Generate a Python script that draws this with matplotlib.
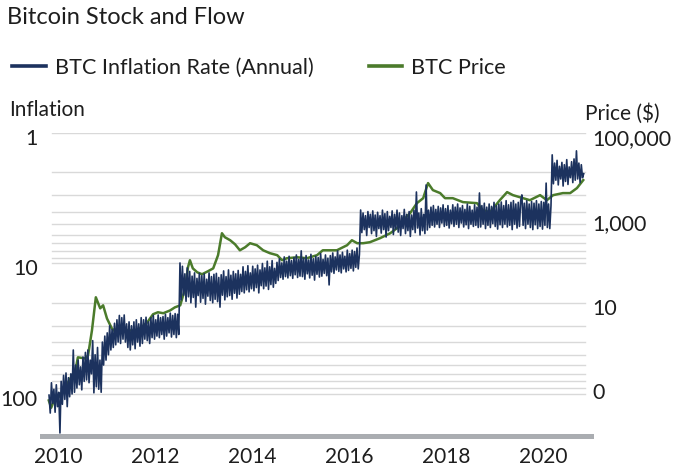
import numpy as np
import matplotlib.pyplot as plt
import matplotlib.transforms as mtransforms
from matplotlib.lines import Line2D
from matplotlib.ticker import NullLocator

# BTC annual inflation rate (%), one reading every 0.025 years
infl_start = 2009.815
infl_step = 0.025
infl_era1 = [102, 140, 82, 118, 92, 138, 85, 125, 97, 199,
             80, 120, 72, 110, 69, 125, 75, 105, 70, 100,
             46, 97, 60, 90, 55, 85, 62, 93, 52, 80,
             48, 78, 46, 82, 55, 70, 39, 98, 50, 88,
             44, 92, 55, 97, 40, 60, 36, 55, 34, 50,
             30, 46, 32, 44, 28.7, 42, 27, 40, 25, 41,
             26, 38, 24.8, 40, 29, 44, 28, 46, 30, 42,
             28, 45, 27, 40, 29, 43, 26, 41, 27, 38,
             25.8, 39, 28, 41, 26, 37, 25, 38, 27, 36,
             24.8, 37, 26, 35, 25.5, 38, 24.5, 36, 26, 34,
             24, 36.6, 25, 35, 24.2, 37, 24.5, 35]
infl_era2 = [9.9, 19.0, 10.5, 17.5, 12.0, 19.5, 10.8, 18.0, 11.5, 20.0,
             12.5, 18.2, 11.8, 21.6, 13.0, 17.6, 11.9, 19.8, 12.4, 18.5,
             12.0, 20.5, 13.2, 17.8, 11.8, 19.2, 12.6, 20.0, 12.1, 18.8,
             11.9, 19.6, 12.8, 21.6, 12.2, 17.5, 11.4, 19.0, 12.6, 18.0,
             11.2, 17.6, 12.3, 18.8, 11.5, 16.9, 12.0, 18.4, 11.3, 17.2,
             12.1, 16.4, 10.6, 16.8, 11.5, 15.9, 10.4, 16.5, 11.8, 15.6,
             10.5, 16.2, 11.0, 15.3, 10.3, 16.8, 11.2, 14.8, 10.0, 15.6,
             10.8, 14.9, 9.6, 15.8, 10.6, 14.5, 9.5, 15.2, 10.9, 14.2,
             9.8, 13.5, 9.2, 12.8, 9.9, 13.2, 8.9, 12.6, 9.6, 12.9,
             8.8, 12.4, 9.5, 13.0, 9.0, 12.2, 8.6, 12.8, 9.3, 12.5,
             8.0, 12.6, 9.1, 13.2, 8.7, 12.0, 9.4, 12.9, 8.5, 12.3,
             9.2, 13.4, 8.8, 12.1, 9.0, 12.7, 8.4, 12.5, 9.3, 11.9,
             8.6, 12.4, 9.1, 14.6, 8.7, 11.6, 8.3, 11.9, 8.9, 11.2,
             8.0, 11.5, 8.6, 11.8, 8.2, 11.0, 8.8, 11.6, 7.9, 11.3,
             8.4, 10.9, 7.9, 11.4, 8.1, 10.7, 7.6, 11.0, 8.5]
infl_era3 = [3.89, 5.8, 4.1, 5.5, 4.3, 6.1, 4.0, 5.3, 4.2, 5.9,
             3.95, 5.6, 4.25, 6.2, 4.05, 5.4, 4.3, 5.85, 3.9, 5.5,
             4.15, 6.27, 4.0, 5.6, 4.35, 5.3, 3.95, 6.0, 4.2, 5.45,
             3.9, 5.75, 4.1, 6.1, 4.3, 5.4, 3.85, 5.9, 4.2, 5.6,
             4.0, 6.2, 4.25, 5.5, 3.9, 5.8, 2.83, 5.35, 4.1, 6.05,
             3.8, 5.6, 4.2, 5.9, 2.5, 5.54, 3.9, 5.3, 3.7, 5.1,
             3.6, 5.25, 3.85, 5.0, 3.65, 5.3, 3.75, 4.9, 3.55, 5.2,
             3.8, 5.1, 3.6, 5.35, 3.9, 4.95, 3.55, 5.2, 3.7, 5.0,
             3.5, 5.3, 3.75, 4.9, 3.6, 5.25, 3.85, 5.05, 3.5, 5.4,
             3.65, 5.0, 3.9, 5.2, 3.55, 5.1, 3.7, 5.3, 2.88, 5.25,
             3.6, 5.0, 3.45, 5.4, 3.7, 5.1, 3.5, 5.3, 3.65, 4.95,
             3.4, 5.2, 3.6, 5.45, 3.5, 5.05, 3.38, 5.3, 3.6, 5.0,
             3.3, 5.25, 3.55, 5.1, 3.4, 5.5, 3.3, 5.0, 3.5, 5.35,
             3.4, 5.2, 3.3, 2.98, 5.1, 3.45, 5.4, 3.3, 5.0, 3.5,
             5.3, 3.35, 5.5, 3.45, 5.05, 3.3, 5.4, 3.5, 5.2, 3.35,
             5.45, 3.4, 5.1, 2.42, 5.3, 3.5, 5.4, 3.6]
infl_era4 = [1.47, 2.45, 1.7, 2.3, 1.62, 2.5, 1.8, 2.25, 1.68, 2.55,
             1.75, 2.35, 1.6, 2.48, 1.82, 2.2, 1.66, 2.4, 1.58, 2.3,
             1.37, 2.25, 1.7, 2.4, 1.75, 2.2, 2.05]

# BTC price in USD
price_years = [2009.81, 2009.86, 2009.90, 2010.04, 2010.17, 2010.29, 2010.35, 2010.41,
               2010.56, 2010.62, 2010.70, 2010.78, 2010.87, 2010.93, 2011.01, 2011.11,
               2011.22, 2011.38, 2011.59, 2011.69, 2011.84, 2011.96, 2012.06, 2012.17,
               2012.31, 2012.41, 2012.52, 2012.58, 2012.62, 2012.68, 2012.72, 2012.78,
               2012.87, 2012.97, 2013.09, 2013.20, 2013.30, 2013.38, 2013.44, 2013.55,
               2013.65, 2013.75, 2013.86, 2013.96, 2014.10, 2014.23, 2014.37, 2014.52,
               2014.62, 2014.72, 2014.93, 2015.13, 2015.34, 2015.46, 2015.61, 2015.75,
               2015.96, 2016.06, 2016.17, 2016.29, 2016.43, 2016.64, 2016.85, 2016.99,
               2017.16, 2017.26, 2017.40, 2017.53, 2017.63, 2017.73, 2017.88, 2017.98,
               2018.14, 2018.35, 2018.64, 2018.76, 2018.91, 2019.11, 2019.26, 2019.38,
               2019.59, 2019.73, 2019.94, 2020.08, 2020.21, 2020.41, 2020.56, 2020.70,
               2020.83]
price_usd = [0.049, 0.033, 0.044, 0.064, 0.11, 0.19, 0.22, 0.51,
             0.48, 0.57, 2.2, 13.3, 7.3, 8.6, 4.2, 2.45,
             1.87, 2.2, 2.2, 2.45, 3.4, 5.3, 5.9, 5.6,
             6.5, 7.7, 8.6, 14.8, 21.7, 68, 99.6, 64,
             51.8, 46.5, 54.6, 64, 131, 432, 348, 295,
             237, 171, 202, 251, 225, 171, 146, 131,
             99.6, 111, 117, 111, 131, 171, 171, 171,
             225, 295, 251, 251, 265, 330, 432, 568,
             980, 1285, 2210, 2900, 6580, 4490, 3820, 2900,
             2900, 2340, 2210, 1510, 1356, 2600, 4030, 3420,
             2900, 2600, 3420, 2600, 3420, 3820, 3820, 5010,
             7740]

year_ticks = [2010, 2012, 2014, 2016, 2018, 2020]
infl_ticks = [1, 10, 100]
infl_grid = [1, 2, 3, 4, 5, 6, 7, 8, 9, 10, 20, 30, 40, 50, 60, 70, 80, 90, 100]
price_ticks = [0.1, 10, 1000, 100000]
price_labels = ['0', '10', '1,000', '100,000']

inflation = np.array(infl_era1 + infl_era2 + infl_era3 + infl_era4)
infl_years = infl_start + infl_step * np.arange(len(inflation))

blue = '#1c325e'
green = '#4b7b2b'
txt = '#1e1e1e'

plt.rcParams['font.family'] = ['Lato', 'DejaVu Sans']

fig = plt.figure(figsize=(6.73, 4.68), dpi=100)
ax = fig.add_axes([42/673, 1-435.5/468, 549/673, 302.5/468])
ax2 = ax.twinx()
ax.set_zorder(2)
ax2.set_zorder(1)
ax.patch.set_visible(False)

# gridlines follow the inflation scale, drawn under the price line
grid_tf = mtransforms.blended_transform_factory(ax2.transAxes, ax.transData)
for v in infl_grid:
    ax2.plot([0.018, 0.989], [v, v], color='#d9d9d9', lw=1.0, transform=grid_tf, zorder=0)

ax2.plot(price_years, price_usd, color=green, lw=1.8, zorder=2)
ax.plot(infl_years, inflation, color=blue, lw=1.2, zorder=3)

ax.set_yscale('log')
ax.set_ylim(208, 1)
ax2.set_yscale('log')
ax2.set_ylim(0.0073, 1e5)
ax.set_xlim(2009.67, 2020.99)

ax.set_xticks(year_ticks)
ax.set_xticklabels([str(y) for y in year_ticks])
ax.set_yticks(infl_ticks)
ax.set_yticklabels([str(v) for v in infl_ticks])
ax.yaxis.set_minor_locator(NullLocator())
ax2.set_yticks(price_ticks)
ax2.set_yticklabels(price_labels)
ax2.yaxis.set_minor_locator(NullLocator())

for a in (ax, ax2):
    for s in a.spines.values():
        s.set_visible(False)
ax.spines['bottom'].set_visible(True)
ax.spines['bottom'].set_color('#aaadb1')
ax.spines['bottom'].set_linewidth(3.6)

ax.tick_params(axis='x', length=0, pad=8, labelsize=15, colors=txt)
ax.tick_params(axis='y', length=0, pad=3, labelsize=15.5, colors=txt)
ax2.tick_params(axis='y', length=0, pad=1, labelsize=15.5, colors=txt)

shift = mtransforms.ScaledTranslation(0, -4/100, fig.dpi_scale_trans)
for lab in ax.get_yticklabels() + ax2.get_yticklabels():
    lab.set_transform(lab.get_transform() + shift)

fig.text(7/673, 1-24/468, 'Bitcoin Stock and Flow', fontsize=17, color=txt, va='baseline')
fig.text(9/673, 1-116/468, 'Inflation', fontsize=15, color=txt, va='baseline')
fig.text(585/673, 1-120/468, 'Price ($)', fontsize=15, color=txt, va='baseline')

handles = [Line2D([], [], color=blue, lw=2.6), Line2D([], [], color=green, lw=2.6)]
fig.legend(handles, ['BTC Inflation Rate (Annual)', 'BTC Price'], loc='upper left',
           bbox_to_anchor=(12/673, 1-58/468), ncol=2, frameon=False, fontsize=15.6,
           handlelength=1.55, handletextpad=0.42, columnspacing=2.55,
           borderpad=0, borderaxespad=0, labelcolor=txt)

fig.savefig('out.png', dpi=100)
